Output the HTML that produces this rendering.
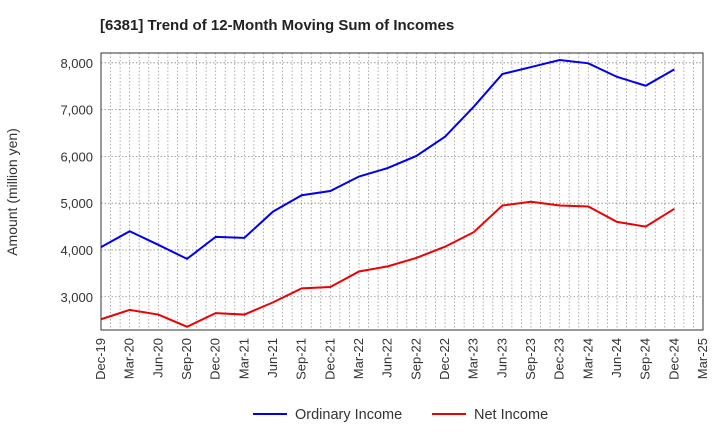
<!DOCTYPE html>
<html><head><meta charset="utf-8"><style>
body{margin:0;background:#fff;font-family:"Liberation Sans",sans-serif;}
</style></head><body>
<svg width="720" height="440" xmlns="http://www.w3.org/2000/svg" id="chart">
<text x="100" y="30" font-size="15" font-weight="bold" fill="#222">[6381]  Trend of 12-Month Moving Sum of Incomes</text>
<g id="grid"></g><g id="axes"></g><g id="series"></g>
<text transform="translate(17,192) rotate(-90)" text-anchor="middle" font-size="14" fill="#333">Amount (million yen)</text>
<line x1="253" y1="414" x2="287" y2="414" stroke="#0000ee" stroke-width="2"/>
<text x="295" y="419" font-size="14.5" fill="#333">Ordinary Income</text>
<line x1="432" y1="414" x2="466" y2="414" stroke="#ee0000" stroke-width="2"/>
<text x="474" y="419" font-size="14.5" fill="#333">Net Income</text>
</svg>
<script>
const xLabels=["Dec-19","Mar-20","Jun-20","Sep-20","Dec-20","Mar-21","Jun-21","Sep-21","Dec-21","Mar-22","Jun-22","Sep-22","Dec-22","Mar-23","Jun-23","Sep-23","Dec-23","Mar-24","Jun-24","Sep-24","Dec-24","Mar-25"];
const yTicks=[3000,4000,5000,6000,7000,8000];
const ordinaryIncome=[4060,4400,4110,3810,4280,4260,4820,5170,5260,5570,5750,6010,6420,7060,7760,7910,8060,7990,7700,7510,7860];
const netIncome=[2520,2720,2620,2360,2650,2620,2880,3180,3210,3540,3650,3830,4070,4380,4950,5030,4950,4930,4600,4500,4880];
const L=101,R=703,T=53,B=330,yMin=2290,yMax=8210;
const months=63;
const xm=m=>L+(R-L)*m/months;
const xq=i=>xm(i*3);
const y=v=>B-(v-yMin)/(yMax-yMin)*(B-T);
const NS="http://www.w3.org/2000/svg";
function mk(tag,attrs,parent){const e=document.createElementNS(NS,tag);for(const k in attrs)e.setAttribute(k,attrs[k]);document.getElementById(parent).appendChild(e);return e;}
for(let m=1;m<months;m++){const e=mk("line",{x1:xm(m),x2:xm(m),y1:T,y2:B,stroke:"#999","stroke-width":0.8,"stroke-dasharray":"1.5,2"},"grid");

}
yTicks.forEach(v=>{const e=mk("line",{x1:L,x2:R,y1:y(v),y2:y(v),stroke:"#888","stroke-width":0.8,"stroke-dasharray":"1.5,2"},"grid");


const t=mk("text",{x:L-8,y:y(v)+5,"text-anchor":"end","font-size":13,fill:"#333"},"axes");t.textContent=v.toLocaleString("en-US");

});
const fr=mk("rect",{x:L,y:T,width:R-L,height:B-T,fill:"none",stroke:"#333","stroke-width":1},"axes");


xLabels.forEach((s,i)=>{const t=mk("text",{transform:`translate(${xq(i)+4},${B+8}) rotate(-90)`,"text-anchor":"end","font-size":13,fill:"#333"},"axes");t.textContent=s;

});
function line(data,color,name){const p=mk("polyline",{points:data.map((v,i)=>xq(i)+","+y(v)).join(" "),fill:"none",stroke:color,"stroke-width":2},"series");

}
line(ordinaryIncome,"#0000ee","ordinary-income-line");
line(netIncome,"#ee0000","net-income-line");
</script>
</body></html>
